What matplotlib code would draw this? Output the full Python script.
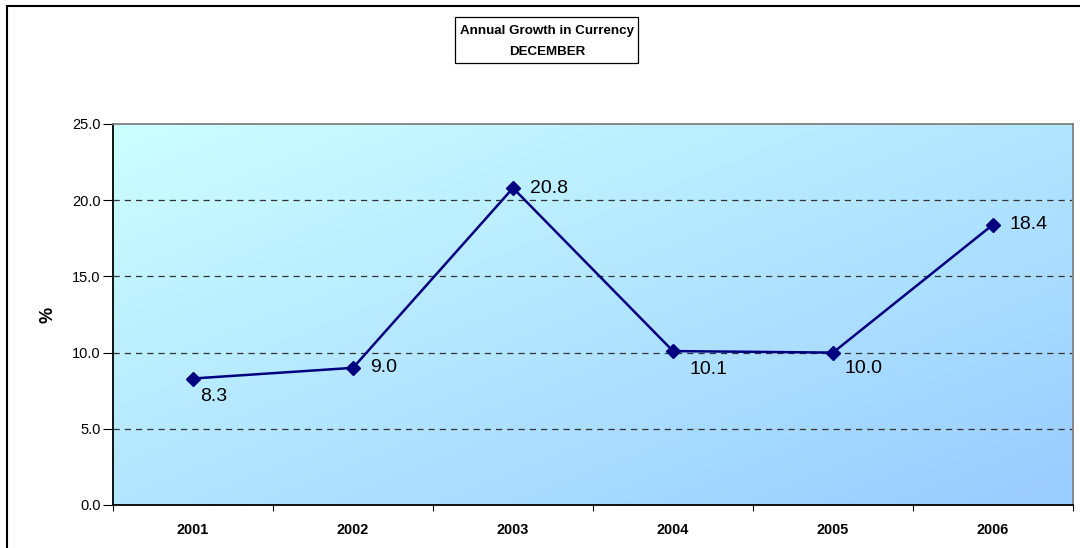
import numpy as np
import matplotlib.pyplot as plt
from matplotlib.patches import Rectangle

plt.rcParams["font.family"] = ["Liberation Sans", "DejaVu Sans"]

years = ["2001", "2002", "2003", "2004", "2005", "2006"]
growth = [8.3, 9.0, 20.8, 10.1, 10.0, 18.4]
# label offsets (points) relative to each marker
label_dx = [5, 12, 12, 12, 8.5, 12]
label_dy = [-13, 0, 0, -13, -11.5, 0]

fig = plt.figure(figsize=(10.8, 5.48), dpi=100)
ax = fig.add_axes([113 / 1080, 1 - 505 / 548, 960 / 1080, 381 / 548])

# diagonal gradient background (light cyan top-left -> blue bottom-right)
n = 256
xx, yy = np.meshgrid(np.linspace(0, 1, n), np.linspace(0, 1, n))
t = (xx + yy) / 2
c0 = np.array([204, 255, 255]) / 255
c1 = np.array([153, 204, 255]) / 255
img = c0[None, None, :] * (1 - t[..., None]) + c1[None, None, :] * t[..., None]
ax.imshow(img, extent=[0, 1, 0, 1], transform=ax.transAxes, aspect="auto",
          origin="upper", zorder=0)

x = np.arange(len(years))
ax.plot(x, growth, color="#000080", lw=1.8, marker="D", ms=7, zorder=3)
for i, v in enumerate(growth):
    ax.annotate(f"{v:.1f}", (x[i], v), xytext=(label_dx[i], label_dy[i]),
                textcoords="offset points", ha="left", va="center",
                fontsize=14, color="black", zorder=4)

ax.set_xlim(-0.5, len(years) - 0.5)
ax.set_ylim(0, 25)
ax.set_yticks(np.arange(0, 25.1, 5))
ax.set_yticklabels([f"{v:.1f}" for v in np.arange(0, 25.1, 5)], fontsize=10.5)
for yv in [5, 10, 15, 20]:
    ax.axhline(yv, color="#333333", lw=0.9, ls=(0, (5, 4)), zorder=1)

ax.set_xticks(np.arange(-0.5, len(years), 1))
ax.set_xticklabels([])
ax.set_xticks(x, minor=True)
ax.set_xticklabels(years, minor=True, fontsize=10.4, fontweight="bold")
ax.tick_params(axis="x", which="minor", length=0, pad=13)
ax.tick_params(axis="x", which="major", length=4, direction="out")
ax.tick_params(axis="y", length=7, direction="out", pad=2)

ax.set_ylabel("%", fontsize=13, fontweight="bold", labelpad=11)

ax.spines["left"].set_color("black")
ax.spines["bottom"].set_color("black")
ax.spines["top"].set_color("#808080")
ax.spines["right"].set_color("#808080")
for s in ax.spines.values():
    s.set_linewidth(1.3)

# title box
fig.patches.append(Rectangle((455 / 1080, 1 - 63 / 548), 183 / 1080, 46 / 548,
                             transform=fig.transFigure, fill=True, fc="white",
                             ec="black", lw=0.9))
fig.text(547 / 1080, 1 - 31 / 548, "Annual Growth in Currency",
         ha="center", va="center", fontsize=9.6, fontweight="bold")
fig.text(547 / 1080, 1 - 52 / 548, "DECEMBER",
         ha="center", va="center", fontsize=9.6, fontweight="bold")

# outer chart border
fig.patches.append(Rectangle((7 / 1080, -0.1), 1.2, 1 - 6 / 548 + 0.1,
                             transform=fig.transFigure, fill=False,
                             ec="black", lw=1.5))

fig.savefig("out.png", dpi=100)
